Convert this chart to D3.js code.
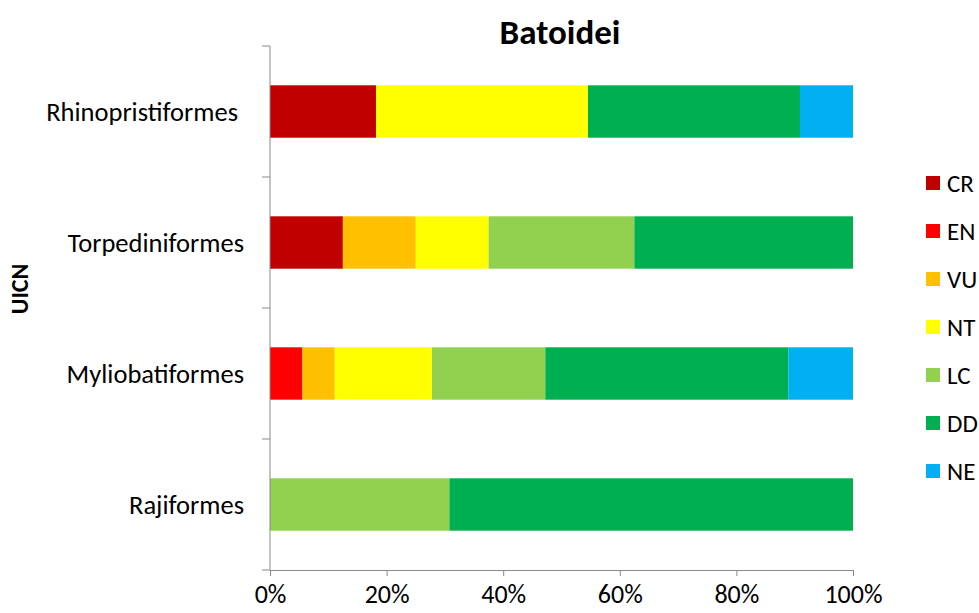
<!DOCTYPE html>
<html>
<head>
<meta charset="utf-8">
<script src="https://cdn.jsdelivr.net/npm/d3@7"></script>
<style>
  html, body { margin: 0; padding: 0; background: #fff; }
  svg { display: block; }
  text { font-family: Carlito, Calibri, Lato, sans-serif; fill: #000; white-space: pre; }
</style>
</head>
<body>
<svg id="chart" width="979" height="613"></svg>
<script>
// Orders of rays, top to bottom (label text as typed in the source table)
const categories = ["Rhinopristiformes ", "Torpediniformes", "Myliobatiformes", "Rajiformes"];

// IUCN status codes (legend order)
const statuses = ["CR", "EN", "VU", "NT", "LC", "DD", "NE"];
const statusColors = ["#C00000", "#FF0000", "#FFC000", "#FFFF00", "#92D050", "#00B050", "#00B0F0"];

// Number of species per status, one value per order (same order as categories)
const CR = [2, 1, 0, 0];
const EN = [0, 0, 2, 0];
const VU = [0, 1, 2, 0];
const NT = [4, 1, 6, 0];
const LC = [0, 2, 7, 4];
const DD = [4, 3, 15, 9];
const NE = [1, 0, 4, 0];

const xTicks = [0, 0.2, 0.4, 0.6, 0.8, 1.0];

const seriesByStatus = { CR, EN, VU, NT, LC, DD, NE };

// Convert counts to shares of each order's total
const rows = categories.map((name, i) => {
  const row = { name };
  const total = statuses.reduce((s, k) => s + seriesByStatus[k][i], 0);
  statuses.forEach(k => { row[k] = seriesByStatus[k][i] / total; });
  return row;
});

const stacked = d3.stack().keys(statuses)(rows);

const svg = d3.select("#chart");
const margin = { left: 270, right: 126, top: 46, bottom: 43 };
const W = 979, H = 613;

const x = d3.scaleLinear().domain([0, 1]).range([margin.left, W - margin.right]);
const y = d3.scaleBand().domain(categories)
  .range([margin.top, H - margin.bottom])
  .paddingInner(0.6).paddingOuter(0.3);
const color = d3.scaleOrdinal().domain(statuses).range(statusColors);

// Stacked bars
svg.append("g").selectAll("g")
  .data(stacked)
  .join("g")
  .attr("fill", d => color(d.key))
  .selectAll("rect")
  .data(d => d)
  .join("rect")
  .attr("x", d => x(d[0]))
  .attr("width", d => Math.max(0, x(d[1]) - x(d[0])))
  .attr("y", d => y(d.data.name))
  .attr("height", y.bandwidth());

const axisColor = "#898989";

// Category axis with ticks between bands
const yAxisG = svg.append("g").attr("transform", `translate(${x(0)},0)`);
yAxisG.append("line")
  .attr("x1", 0).attr("x2", 0)
  .attr("y1", margin.top).attr("y2", H - margin.bottom)
  .attr("stroke", axisColor).attr("stroke-width", 1);
const bandEdges = categories.map(c => y(c) - y.step() * y.paddingInner() / 2)
  .concat([H - margin.bottom]);
yAxisG.selectAll("line.tick")
  .data(bandEdges)
  .join("line")
  .attr("class", "tick")
  .attr("x1", -8).attr("x2", 0)
  .attr("y1", d => d).attr("y2", d => d)
  .attr("stroke", axisColor);
yAxisG.selectAll("text")
  .data(categories)
  .join("text")
  .attr("x", -26)
  .attr("y", d => y(d) + y.bandwidth() / 2)
  .attr("dy", "0.35em")
  .attr("text-anchor", "end")
  .style("font-size", "26.5px")
  .text(d => d);

// Percentage axis
const xAxis = d3.axisBottom(x)
  .tickValues(xTicks)
  .tickFormat(d3.format(".0%"))
  .tickSizeInner(6).tickSizeOuter(0);
const xAxisG = svg.append("g")
  .attr("transform", `translate(0,${H - margin.bottom})`)
  .call(xAxis);
xAxisG.select(".domain").attr("stroke", axisColor);
xAxisG.selectAll(".tick line").attr("stroke", axisColor);
xAxisG.selectAll(".tick text")
  .attr("y", 24)
  .attr("dy", "0.35em")
  .style("font-size", "26px")
  .style("font-family", "Carlito, Calibri, Lato, sans-serif")
  .attr("fill", "#000");

// Title
svg.append("text")
  .attr("x", 560).attr("y", 32)
  .attr("dy", "0.35em")
  .attr("text-anchor", "middle")
  .style("font-size", "35px")
  .style("font-weight", "bold")
  .text("Batoidei");

// Vertical axis title
svg.append("text")
  .attr("transform", "translate(20,289) rotate(-90)")
  .attr("dy", "0.35em")
  .attr("text-anchor", "middle")
  .style("font-size", "24px")
  .style("font-weight", "bold")
  .text("UICN");

// Legend
const legend = svg.append("g");
const legendItems = legend.selectAll("g")
  .data(statuses)
  .join("g")
  .attr("transform", (d, i) => `translate(926,${183 + i * 48})`);
legendItems.append("rect")
  .attr("x", 0).attr("y", -7)
  .attr("width", 14).attr("height", 14)
  .attr("fill", d => color(d));
legendItems.append("text")
  .attr("x", 21).attr("y", 0)
  .attr("dy", "0.35em")
  .style("font-size", "25px")
  .text(d => d);
</script>
</body>
</html>
